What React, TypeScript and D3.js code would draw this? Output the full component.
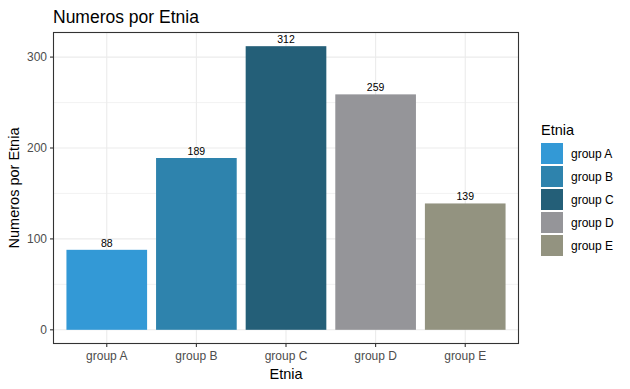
import * as d3 from 'd3';
import React from 'react';

const groups = ['group A', 'group B', 'group C', 'group D', 'group E'];
const counts = [88, 189, 312, 259, 139];
const colors = ['#3399d6', '#2e83ad', '#245f78', '#959599', '#939380'];
const yTicks = [0, 100, 200, 300];
const yMinor = [50, 150, 250];

const App = (): React.ReactElement => {
    const width = 630;
    const height = 389;
    const panel = { left: 53, right: 519, top: 32, bottom: 344 };

    // Scales, ggplot-ish expansion: 0.6 band on each side, 5% on y.
    const maxVal = d3.max(counts) as number;
    const yScale = d3
        .scaleLinear()
        .domain([-maxVal * 0.05, maxVal * 1.05])
        .range([panel.bottom, panel.top]);
    const step = (panel.right - panel.left) / (groups.length + 0.2);
    const xScale = d3
        .scalePoint<string>()
        .domain(groups)
        .range([panel.left + 0.6 * step, panel.right - 0.6 * step]);
    const barW = step * 0.9;

    const font = 'Liberation Sans, Arial, sans-serif';

    return (
        <svg width={width} height={height} style={{ position: 'absolute', left: 0, top: 0 }} fontFamily={font}>
            <rect width={width} height={height} fill="#fff" />
            <text x={53} y={23} fontSize={17.5} fill="#000">
                Numeros por Etnia
            </text>

            {/* grid */}
            {yMinor.map((t) => (
                <line key={'m' + t} x1={panel.left} x2={panel.right} y1={yScale(t)} y2={yScale(t)} stroke="#ebebeb" strokeWidth={0.6} />
            ))}
            {yTicks.map((t) => (
                <line key={'g' + t} x1={panel.left} x2={panel.right} y1={yScale(t)} y2={yScale(t)} stroke="#ebebeb" strokeWidth={1.1} />
            ))}
            {groups.map((g) => (
                <line key={'gx' + g} x1={xScale(g)} x2={xScale(g)} y1={panel.top} y2={panel.bottom} stroke="#ebebeb" strokeWidth={1.1} />
            ))}

            {/* bars */}
            {groups.map((g, i) => (
                <rect
                    key={g}
                    x={(xScale(g) as number) - barW / 2}
                    y={yScale(counts[i])}
                    width={barW}
                    height={yScale(0) - yScale(counts[i])}
                    fill={colors[i]}
                />
            ))}
            {groups.map((g, i) => (
                <text key={'l' + g} x={xScale(g)} y={yScale(counts[i]) - 3} textAnchor="middle" fontSize={10.5} fill="#000">
                    {counts[i]}
                </text>
            ))}

            {/* panel border */}
            <rect
                x={panel.left + 0.5}
                y={panel.top + 0.5}
                width={panel.right - panel.left - 1}
                height={panel.bottom - panel.top - 1}
                fill="none"
                stroke="#333333"
                strokeWidth={1.1}
            />

            {/* y axis */}
            {yTicks.map((t) => (
                <g key={'yt' + t}>
                    <line x1={panel.left - 3} x2={panel.left} y1={yScale(t)} y2={yScale(t)} stroke="#333333" strokeWidth={1.1} />
                    <text x={panel.left - 6} y={yScale(t) + 4} textAnchor="end" fontSize={12} fill="#4d4d4d">
                        {t}
                    </text>
                </g>
            ))}
            <text
                transform={`translate(19, ${(panel.top + panel.bottom) / 2}) rotate(-90)`}
                textAnchor="middle"
                fontSize={14.5}
                fill="#000"
            >
                Numeros por Etnia
            </text>

            {/* x axis */}
            {groups.map((g) => (
                <g key={'xt' + g}>
                    <line x1={xScale(g)} x2={xScale(g)} y1={panel.bottom} y2={panel.bottom + 3} stroke="#333333" strokeWidth={1.1} />
                    <text x={xScale(g)} y={panel.bottom + 16} textAnchor="middle" fontSize={12} fill="#4d4d4d">
                        {g}
                    </text>
                </g>
            ))}
            <text x={(panel.left + panel.right) / 2} y={379} textAnchor="middle" fontSize={14.5} fill="#000">
                Etnia
            </text>

            {/* legend */}
            <text x={541} y={135} fontSize={14.5} fill="#000">
                Etnia
            </text>
            {groups.map((g, i) => (
                <g key={'lg' + g}>
                    <rect x={541} y={143 + i * 23} width={22} height={21} fill={colors[i]} />
                    <text x={571} y={143 + i * 23 + 15} fontSize={12} fill="#000">
                        {g}
                    </text>
                </g>
            ))}
        </svg>
    );
};

export default App;
